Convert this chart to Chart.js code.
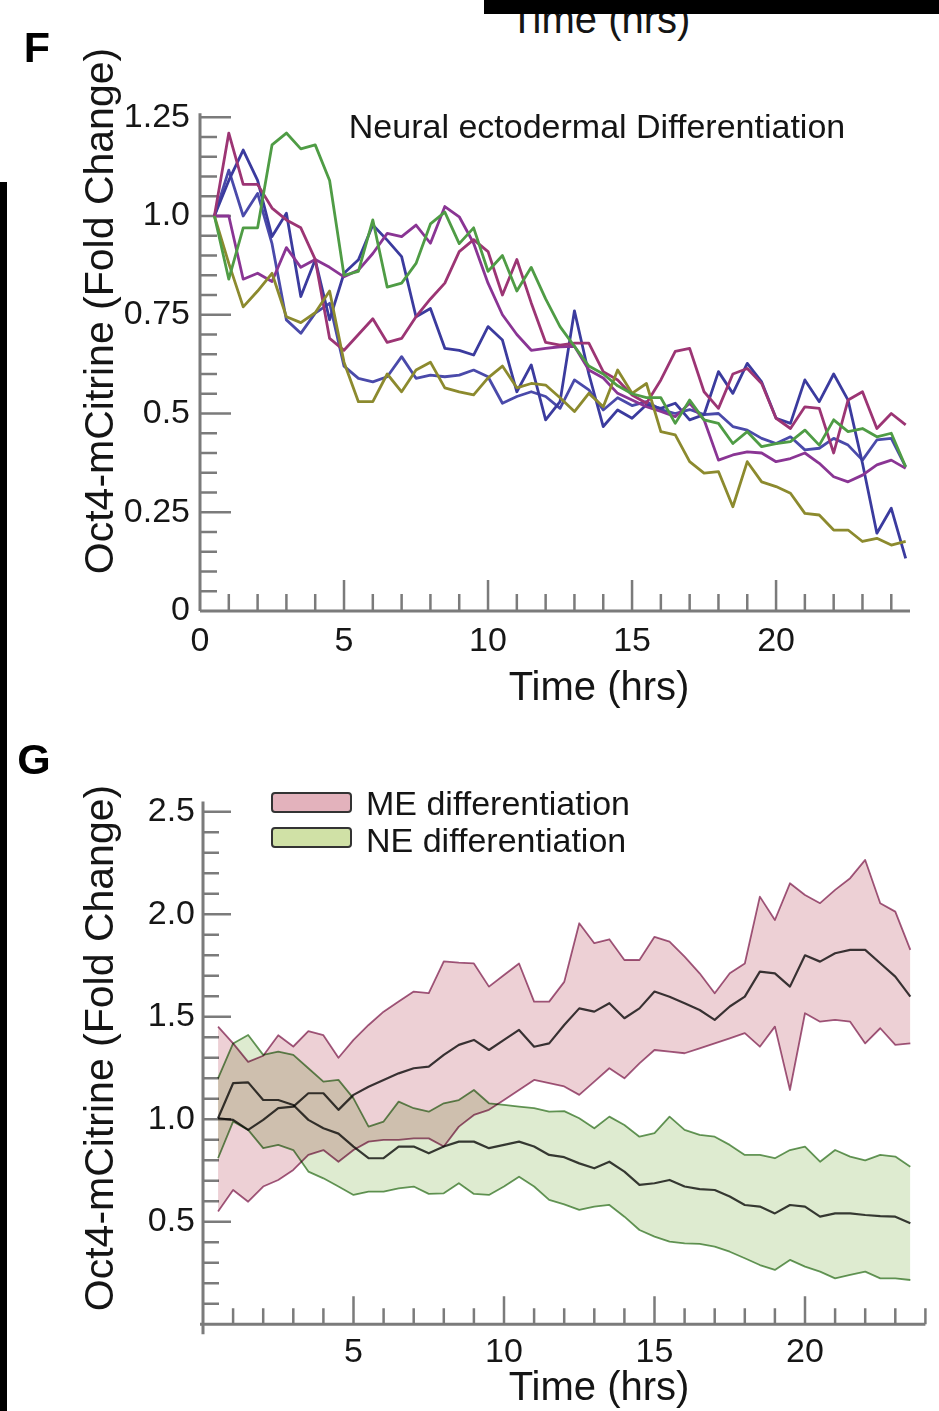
<!DOCTYPE html>
<html>
<head>
<meta charset="utf-8">
<title>Oct4-mCitrine fold change</title>
<script src="https://cdn.jsdelivr.net/npm/chart.js@4.4.1/dist/chart.umd.min.js"></script>
<style>
  html, body { margin: 0; padding: 0; background: #fff; }
  body { position: relative; width: 939px; height: 1411px; overflow: hidden;
         font-family: "Liberation Sans", Arial, Helvetica, sans-serif; color: #151515; }
  canvas { position: absolute; left: 0; }
  #chartF { top: 0; }
  #chartG { top: 720px; }
  #topBar { position: absolute; left: 484px; top: 0; width: 455px; height: 14px; background: #000; z-index: 5; }
  #leftBar { position: absolute; left: 0; top: 182px; width: 7px; height: 1229px; background: #000; }
  .lbl { position: absolute; white-space: nowrap; line-height: 1; transform: translate(-50%, -50%); }
  .panel { font-weight: bold; font-size: 43px; color: #000; }
  .axisTitle { font-size: 40px; }
  .yTitle { font-size: 41px; transform: translate(-50%, -50%) rotate(-90deg); }
  .plotTitle { font-size: 34px; }
  .legendBox { position: absolute; left: 271px; width: 77px; height: 17px; border: 2.5px solid #333; border-radius: 4px; }
  .legendText { position: absolute; left: 366px; font-size: 34px; line-height: 1; white-space: nowrap; transform: translate(0, -50%); }
</style>
</head>
<body>
<div id="topBar"></div>
<div class="lbl axisTitle" style="left:600px; top:19px;">Time (hrs)</div>
<div id="leftBar"></div>

<canvas id="chartF" width="939" height="720"></canvas>
<canvas id="chartG" width="939" height="691"></canvas>

<div class="lbl panel" style="left:37px; top:47px;">F</div>
<div class="lbl yTitle" style="left:99px; top:311px;">Oct4-mCitrine (Fold Change)</div>
<div class="lbl plotTitle" style="left:597px; top:126px;">Neural ectodermal Differentiation</div>
<div class="lbl axisTitle" style="left:599px; top:686px;">Time (hrs)</div>

<div class="lbl panel" style="left:34px; top:759px;">G</div>
<div class="lbl yTitle" style="left:99px; top:1048px;">Oct4-mCitrine (Fold Change)</div>
<div class="lbl axisTitle" style="left:599px; top:1386px;">Time (hrs)</div>
<div class="legendBox" style="top:792px; background:#e3b2bc;"></div>
<div class="legendText" style="top:803px;">ME differentiation</div>
<div class="legendBox" style="top:827px; background:#d0e1a6;"></div>
<div class="legendText" style="top:840px;">NE differentiation</div>

<script>
// ---- Panel F: single-cell traces, neural ectodermal differentiation ----
const timeF = [0.5, 1, 1.5, 2, 2.5, 3, 3.5, 4, 4.5, 5, 5.5, 6,
  6.5, 7, 7.5, 8, 8.5, 9, 9.5, 10, 10.5, 11, 11.5, 12,
  12.5, 13, 13.5, 14, 14.5, 15, 15.5, 16, 16.5, 17, 17.5, 18,
  18.5, 19, 19.5, 20, 20.5, 21, 21.5, 22, 22.5, 23, 23.5, 24, 24.5];

const greenCell = [1.00, 0.84, 0.97, 0.97, 1.18, 1.21, 1.17, 1.18, 1.09, 0.85, 0.86, 0.99,
  0.82, 0.83, 0.88, 0.98, 1.01, 0.93, 0.97, 0.86, 0.90, 0.81, 0.87, 0.79,
  0.72, 0.67, 0.62, 0.60, 0.57, 0.55, 0.54, 0.54, 0.475, 0.534, 0.484, 0.475,
  0.424, 0.454, 0.416, 0.424, 0.429, 0.458, 0.42, 0.484, 0.454, 0.462, 0.441, 0.45, 0.365];

const oliveCell = [1.00, 0.88, 0.77, 0.81, 0.855, 0.745, 0.73, 0.755, 0.81, 0.63, 0.53, 0.53,
  0.60, 0.555, 0.61, 0.63, 0.565, 0.555, 0.547, 0.59, 0.62, 0.565, 0.576, 0.572,
  0.54, 0.505, 0.551, 0.517, 0.61, 0.551, 0.576, 0.454, 0.446, 0.378, 0.349, 0.353,
  0.264, 0.378, 0.327, 0.315, 0.298, 0.247, 0.243, 0.205, 0.205, 0.176, 0.184, 0.167, 0.176];

const magentaCell = [1.00, 1.21, 1.08, 1.08, 1.02, 0.99, 0.97, 0.89, 0.69, 0.66, 0.70, 0.74,
  0.68, 0.69, 0.745, 0.79, 0.83, 0.91, 0.94, 0.91, 0.80, 0.89, 0.78, 0.68,
  0.673, 0.678, 0.678, 0.606, 0.585, 0.547, 0.526, 0.585, 0.657, 0.665, 0.555, 0.513,
  0.60, 0.614, 0.576, 0.488, 0.462, 0.517, 0.513, 0.40, 0.534, 0.555, 0.462, 0.50, 0.471];

const purpleCell = [1.00, 1.00, 0.84, 0.855, 0.834, 0.92, 0.87, 0.89, 0.87, 0.846, 0.863, 0.905,
  0.956, 0.948, 0.977, 0.931, 1.024, 0.998, 0.931, 0.83, 0.75, 0.70, 0.66, 0.665,
  0.669, 0.67, 0.61, 0.59, 0.551, 0.534, 0.517, 0.505, 0.492, 0.526, 0.484, 0.382,
  0.395, 0.403, 0.40, 0.378, 0.386, 0.40, 0.374, 0.34, 0.327, 0.344, 0.37, 0.382, 0.361];

const blueCellA = [1.00, 1.09, 1.167, 1.09, 0.948, 1.007, 0.796, 0.889, 0.737, 0.855, 0.889, 0.977,
  0.939, 0.897, 0.745, 0.766, 0.665, 0.66, 0.648, 0.72, 0.686, 0.555, 0.623, 0.484,
  0.53, 0.76, 0.60, 0.467, 0.509, 0.488, 0.522, 0.513, 0.526, 0.484, 0.497, 0.606,
  0.551, 0.627, 0.58, 0.488, 0.475, 0.585, 0.53, 0.60, 0.534, 0.374, 0.197, 0.26, 0.133];

const blueCellB = [1.00, 1.116, 1.00, 1.057, 0.93, 0.737, 0.703, 0.754, 0.779, 0.62, 0.589, 0.58,
  0.593, 0.644, 0.589, 0.597, 0.593, 0.597, 0.61, 0.593, 0.526, 0.543, 0.555, 0.543,
  0.513, 0.585, 0.56, 0.509, 0.54, 0.52, 0.53, 0.51, 0.50, 0.51, 0.497, 0.50,
  0.467, 0.458, 0.437, 0.424, 0.441, 0.408, 0.412, 0.437, 0.42, 0.382, 0.433, 0.437, 0.365];

const fXTicks = [0, 5, 10, 15, 20];
const fYTicks = [0, 0.25, 0.5, 0.75, 1, 1.25];
const fYLabels = ['0', '0.25', '0.5', '0.75', '1.0', '1.25'];

// ---- Panel G: mean +/- spread, ME vs NE differentiation ----
const timeG = [0.5, 1, 1.5, 2, 2.5, 3, 3.5, 4, 4.5, 5, 5.5, 6,
  6.5, 7, 7.5, 8, 8.5, 9, 9.5, 10, 10.5, 11, 11.5, 12,
  12.5, 13, 13.5, 14, 14.5, 15, 15.5, 16, 16.5, 17, 17.5, 18,
  18.5, 19, 19.5, 20, 20.5, 21, 21.5, 22, 22.5, 23, 23.5];

const meUpper = [1.452, 1.37, 1.28, 1.31, 1.41, 1.355, 1.43, 1.41, 1.30, 1.387, 1.46, 1.525,
  1.574, 1.623, 1.615, 1.77, 1.764, 1.76, 1.647, 1.704, 1.76, 1.574, 1.574, 1.67,
  1.956, 1.859, 1.878, 1.777, 1.777, 1.89, 1.867, 1.793, 1.712, 1.615, 1.712, 1.76,
  2.086, 1.972, 2.151, 2.094, 2.054, 2.119, 2.176, 2.265, 2.054, 2.013, 1.826];

const meMean = [1.005, 0.997, 0.948, 0.997, 1.054, 1.062, 1.127, 1.127, 1.046, 1.119, 1.159, 1.192,
  1.224, 1.249, 1.257, 1.314, 1.363, 1.387, 1.338, 1.387, 1.436, 1.354, 1.37, 1.46,
  1.541, 1.525, 1.566, 1.493, 1.541, 1.623, 1.598, 1.566, 1.533, 1.485, 1.55, 1.598,
  1.72, 1.712, 1.647, 1.80, 1.769, 1.81, 1.826, 1.826, 1.761, 1.696, 1.598];

const meLower = [0.55, 0.655, 0.598, 0.672, 0.704, 0.753, 0.826, 0.85, 0.793, 0.85, 0.891, 0.90,
  0.90, 0.907, 0.907, 0.867, 0.964, 1.021, 1.046, 1.094, 1.143, 1.192, 1.176, 1.16,
  1.119, 1.184, 1.249, 1.20, 1.273, 1.338, 1.33, 1.322, 1.346, 1.37, 1.395, 1.42,
  1.354, 1.452, 1.143, 1.517, 1.476, 1.485, 1.476, 1.37, 1.444, 1.363, 1.37];

const neUpper = [1.20, 1.37, 1.411, 1.314, 1.33, 1.314, 1.249, 1.184, 1.192, 1.102, 0.964, 0.989,
  1.086, 1.054, 1.037, 1.078, 1.094, 1.143, 1.078, 1.07, 1.062, 1.054, 1.037, 1.04,
  1.005, 0.956, 1.013, 0.972, 0.915, 0.932, 1.013, 0.948, 0.924, 0.915, 0.875, 0.826,
  0.826, 0.81, 0.85, 0.867, 0.793, 0.85, 0.818, 0.80, 0.826, 0.818, 0.769];

const neMean = [1.005, 1.176, 1.18, 1.094, 1.094, 1.07, 0.997, 0.956, 0.93, 0.867, 0.81, 0.81,
  0.867, 0.867, 0.834, 0.867, 0.891, 0.891, 0.859, 0.875, 0.891, 0.867, 0.826, 0.815,
  0.785, 0.761, 0.793, 0.745, 0.68, 0.688, 0.704, 0.672, 0.659, 0.655, 0.623, 0.582,
  0.574, 0.541, 0.582, 0.574, 0.525, 0.541, 0.541, 0.533, 0.528, 0.525, 0.493];

const neLower = [0.81, 0.989, 0.948, 0.859, 0.875, 0.85, 0.745, 0.712, 0.672, 0.631, 0.647, 0.647,
  0.663, 0.672, 0.636, 0.639, 0.688, 0.636, 0.631, 0.672, 0.72, 0.672, 0.607, 0.585,
  0.558, 0.574, 0.582, 0.525, 0.46, 0.428, 0.403, 0.395, 0.392, 0.379, 0.354, 0.322,
  0.289, 0.265, 0.314, 0.281, 0.257, 0.224, 0.241, 0.257, 0.224, 0.224, 0.216];

const gXTicks = [5, 10, 15, 20];
const gYTicks = [0.5, 1, 1.5, 2, 2.5];
const gYLabels = ['0.5', '1.0', '1.5', '2.0', '2.5'];

// ---- shared styling ----
const axisColor = '#7b7b7b';
const tickFont = { family: "'Liberation Sans', Arial, sans-serif", size: 34 };
const tickColor = '#161616';

function pairs(xs, ys) {
  return xs.map((x, i) => ({ x: x, y: ys[i] }));
}

function traceLine(label, values, color) {
  return { label: label, data: pairs(timeF, values), borderColor: color, borderWidth: 2.8,
    pointRadius: 0, tension: 0, fill: false, borderJoinStyle: 'round' };
}

// axis lines + inward major/minor tick marks, drawn under the data
function axisMarks(o) {
  return {
    id: 'axisMarks',
    beforeDatasetsDraw(chart) {
      const ctx = chart.ctx;
      const a = chart.chartArea;
      const x = chart.scales.x, y = chart.scales.y;
      ctx.save();
      ctx.strokeStyle = axisColor;
      ctx.lineWidth = 2.5;
      ctx.beginPath();
      for (let i = 1; i * o.xStep <= x.max + 1e-9; i++) {
        const px = x.getPixelForValue(i * o.xStep);
        const len = i % o.xMajorEvery === 0 ? o.majorLen : o.minorLen;
        ctx.moveTo(px, a.bottom);
        ctx.lineTo(px, a.bottom - len);
      }
      for (let i = 1; i * o.yStep <= y.max + 1e-9; i++) {
        const py = y.getPixelForValue(i * o.yStep);
        const len = i % o.yMajorEvery === 0 ? o.majorLen : o.minorLen;
        ctx.moveTo(a.left, py);
        ctx.lineTo(a.left + len, py);
      }
      ctx.stroke();
      ctx.lineWidth = 3;
      ctx.beginPath();
      ctx.moveTo(a.left, a.top - o.yOver);
      ctx.lineTo(a.left, a.bottom + o.yUnder);
      ctx.moveTo(a.left - o.xUnder, a.bottom);
      ctx.lineTo(a.right, a.bottom);
      ctx.stroke();
      ctx.restore();
      if (o.multiply) ctx.globalCompositeOperation = 'multiply';
    },
    afterDatasetsDraw(chart) {
      chart.ctx.globalCompositeOperation = 'source-over';
    }
  };
}

// ---- chart F ----
new Chart(document.getElementById('chartF'), {
  type: 'line',
  data: {
    datasets: [
      traceLine('cell 1', greenCell, '#4f9c45'),
      traceLine('cell 2', oliveCell, '#8c8a2e'),
      traceLine('cell 3', magentaCell, '#9c3574'),
      traceLine('cell 4', purpleCell, '#8a3594'),
      traceLine('cell 5', blueCellA, '#3b3b9e'),
      traceLine('cell 6', blueCellB, '#4a4aaa')
    ]
  },
  options: {
    responsive: false,
    animation: false,
    devicePixelRatio: 1,
    layout: { padding: { top: 117.25, right: 29, bottom: 0, left: 0 } },
    plugins: { legend: { display: false }, tooltip: { enabled: false } },
    scales: {
      x: {
        type: 'linear', min: 0, max: 24.65,
        grid: { display: false, drawTicks: false },
        border: { display: false },
        ticks: { font: tickFont, color: tickColor, padding: 10, maxRotation: 0 },
        afterBuildTicks: s => { s.ticks = fXTicks.map(v => ({ value: v })); },
        afterFit: s => { s.height = 109; }
      },
      y: {
        type: 'linear', min: 0, max: 1.25,
        grid: { display: false, drawTicks: false },
        border: { display: false },
        ticks: { font: tickFont, color: tickColor, padding: 10,
                 callback: v => fYLabels[fYTicks.indexOf(v)] },
        afterBuildTicks: s => { s.ticks = fYTicks.map(v => ({ value: v })); },
        afterFit: s => { s.width = 200; }
      }
    }
  },
  plugins: [axisMarks({ xStep: 1, xMajorEvery: 5, yStep: 0.05, yMajorEvery: 5,
    majorLen: 31, minorLen: 17, yOver: 4, yUnder: 0, xUnder: 0, multiply: false })]
});

// ---- chart G ----
function bandLine(label, values, color, width, fill, bg) {
  return { label: label, data: pairs(timeG, values), borderColor: color, borderWidth: width,
    pointRadius: 0, tension: 0, fill: fill, backgroundColor: bg, borderJoinStyle: 'round' };
}

new Chart(document.getElementById('chartG'), {
  type: 'line',
  data: {
    datasets: [
      bandLine('ME lower', meLower, '#a35a80', 1.8, false, 'transparent'),
      bandLine('ME differentiation', meUpper, '#a35a80', 1.8, '-1', '#edd0d5'),
      bandLine('ME mean', meMean, '#3c3c3c', 2.2, false, 'transparent'),
      bandLine('NE lower', neLower, '#66985a', 1.8, false, 'transparent'),
      bandLine('NE differentiation', neUpper, '#66985a', 1.8, '-1', '#deebd0'),
      bandLine('NE mean', neMean, '#3c3c3c', 2.2, false, 'transparent')
    ]
  },
  options: {
    responsive: false,
    animation: false,
    devicePixelRatio: 1,
    layout: { padding: { top: 81.5, right: 13.6, bottom: 0, left: 0 } },
    plugins: { legend: { display: false }, tooltip: { enabled: false } },
    scales: {
      x: {
        type: 'linear', min: 0, max: 24,
        grid: { display: false, drawTicks: false },
        border: { display: false },
        ticks: { font: tickFont, color: tickColor, padding: 8, maxRotation: 0 },
        afterBuildTicks: s => { s.ticks = gXTicks.map(v => ({ value: v })); },
        afterFit: s => { s.height = 86.7; }
      },
      y: {
        type: 'linear', min: 0, max: 2.55,
        grid: { display: false, drawTicks: false },
        border: { display: false },
        ticks: { font: tickFont, color: tickColor, padding: 8,
                 callback: v => gYLabels[gYTicks.indexOf(v)] },
        afterBuildTicks: s => { s.ticks = gYTicks.map(v => ({ value: v })); },
        afterFit: s => { s.width = 203; }
      }
    }
  },
  plugins: [axisMarks({ xStep: 1, xMajorEvery: 5, yStep: 0.1, yMajorEvery: 5,
    majorLen: 28, minorLen: 16, yOver: 0, yUnder: 10, xUnder: 3, multiply: true })]
});
</script>
</body>
</html>
